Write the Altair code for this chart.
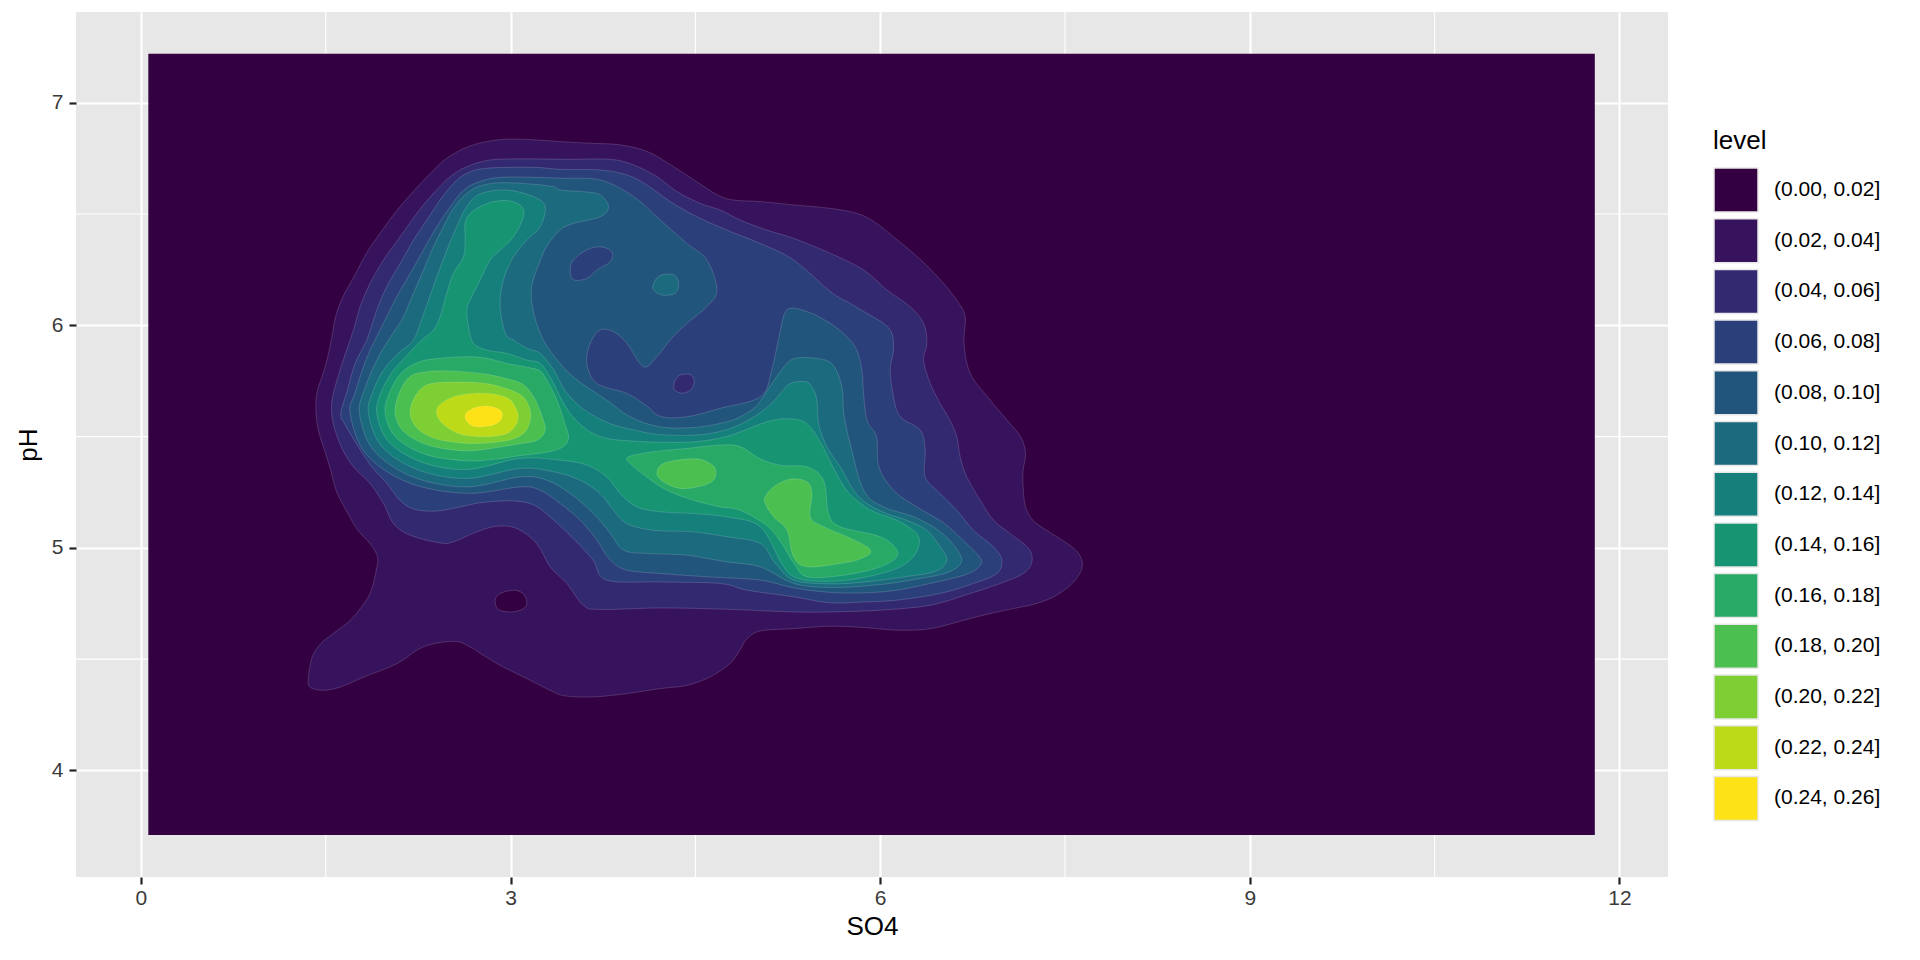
import altair as alt
import pandas as pd

FONT = "Liberation Sans"

LEVELS = ["(0.00, 0.02]", "(0.02, 0.04]", "(0.04, 0.06]", "(0.06, 0.08]", "(0.08, 0.10]",
          "(0.10, 0.12]", "(0.12, 0.14]", "(0.14, 0.16]", "(0.16, 0.18]", "(0.18, 0.20]",
          "(0.20, 0.22]", "(0.22, 0.24]", "(0.24, 0.26]"]
LEVEL_COLORS = ["#330042", "#37135D", "#332971", "#2B407A", "#22557C", "#1B6A7D", "#157F7B",
                "#179573", "#28AA66", "#4BBF4F", "#7ECF33", "#BCDA17", "#FDE218"]
PANEL_GREY = "#E7E7E7"
TICK_LABEL_GREY = "#3B3B3B"
TICK_GREY = "#242424"

X_TICKS = [0, 3, 6, 9, 12]
Y_TICKS = [4, 5, 6, 7]
X_MINOR = [1.5, 4.5, 7.5, 10.5]
Y_MINOR = [4.5, 5.5, 6.5]
X_DOMAIN = [-0.527, 12.394]
Y_DOMAIN = [3.521, 7.408]
SO4_RANGE = [0.06, 11.80]
PH_RANGE = [3.71, 7.22]

# ---- density contour bands: (SO4, pH) vertices ----
level01_outer = [(2.48, 6.75), (2.67, 6.806), (2.89, 6.833), (3.10, 6.836), (3.48, 6.823), (3.67, 6.818), (3.89, 6.811), (4.11, 6.781), (4.30, 6.721), (4.49, 6.653), (4.68, 6.586), (4.81, 6.563), (5.03, 6.556), (5.30, 6.541), (5.59, 6.526), (5.81, 6.503), (5.95, 6.466), (6.14, 6.383), (6.33, 6.294), (6.49, 6.204), (6.62, 6.114), (6.69, 6.039), (6.68, 5.919), (6.73, 5.784), (6.87, 5.679), (7.02, 5.58), (7.14, 5.499), (7.18, 5.424), (7.16, 5.349), (7.16, 5.274), (7.18, 5.184), (7.24, 5.124), (7.35, 5.079), (7.52, 5.019), (7.61, 4.975), (7.64, 4.915), (7.57, 4.847), (7.43, 4.787), (7.27, 4.750), (7.08, 4.727), (6.87, 4.702), (6.68, 4.675), (6.41, 4.637), (6.14, 4.630), (5.87, 4.642), (5.59, 4.648), (5.30, 4.637), (5.03, 4.627), (4.92, 4.592), (4.86, 4.540), (4.78, 4.480), (4.62, 4.420), (4.43, 4.382), (4.22, 4.368), (3.94, 4.345), (3.67, 4.330), (3.44, 4.335), (3.32, 4.360), (3.16, 4.405), (2.94, 4.465), (2.78, 4.517), (2.67, 4.555), (2.54, 4.580), (2.29, 4.555), (2.08, 4.480), (1.81, 4.420), (1.62, 4.375), (1.48, 4.360), (1.37, 4.375), (1.36, 4.420), (1.39, 4.510), (1.46, 4.570), (1.56, 4.615), (1.70, 4.675), (1.81, 4.750), (1.87, 4.810), (1.91, 4.900), (1.92, 4.960), (1.86, 5.019), (1.76, 5.079), (1.68, 5.154), (1.59, 5.25), (1.54, 5.35), (1.49, 5.439), (1.44, 5.529), (1.42, 5.62), (1.43, 5.70), (1.47, 5.77), (1.51, 5.844), (1.55, 5.949), (1.58, 6.039), (1.64, 6.129), (1.73, 6.219), (1.83, 6.324), (1.94, 6.413), (2.08, 6.518), (2.21, 6.601), (2.35, 6.683)]
level00_hole = [(2.875, 4.765), (2.916, 4.795), (3.024, 4.810), (3.10, 4.795), (3.132, 4.757), (3.105, 4.727), (3.010, 4.712), (2.902, 4.723)]
level02_outer = [(2.51, 6.668), (2.645, 6.713), (2.834, 6.743), (3.105, 6.748), (3.484, 6.746), (3.809, 6.746), (3.998, 6.721), (4.188, 6.668), (4.350, 6.601), (4.539, 6.548), (4.702, 6.518), (4.864, 6.473), (5.080, 6.428), (5.297, 6.391), (5.594, 6.324), (5.865, 6.249), (6.054, 6.159), (6.243, 6.084), (6.352, 6.009), (6.379, 5.919), (6.352, 5.844), (6.406, 5.739), (6.487, 5.649), (6.56, 5.58), (6.622, 5.499), (6.649, 5.409), (6.703, 5.319), (6.812, 5.214), (6.920, 5.124), (7.055, 5.064), (7.204, 4.997), (7.231, 4.937), (7.163, 4.885), (6.974, 4.840), (6.730, 4.795), (6.406, 4.742), (6.000, 4.720), (5.594, 4.712), (5.297, 4.712), (4.756, 4.724), (4.215, 4.730), (3.728, 4.723), (3.592, 4.742), (3.457, 4.840), (3.321, 4.915), (3.213, 5.019), (3.051, 5.087), (2.888, 5.097), (2.726, 5.072), (2.537, 5.027), (2.429, 5.022), (2.185, 5.057), (2.050, 5.109), (1.969, 5.199), (1.860, 5.289), (1.725, 5.364), (1.63, 5.45), (1.56, 5.56), (1.55, 5.66), (1.60, 5.77), (1.66, 5.874), (1.725, 5.979), (1.779, 6.084), (1.860, 6.189), (1.969, 6.294), (2.104, 6.398), (2.239, 6.503), (2.374, 6.593)]
level03_outer = [(2.537, 6.638), (2.645, 6.683), (2.807, 6.706), (3.186, 6.710), (3.403, 6.701), (3.728, 6.698), (3.944, 6.676), (4.106, 6.631), (4.296, 6.556), (4.512, 6.488), (4.756, 6.428), (5.026, 6.368), (5.297, 6.294), (5.60, 6.15), (5.756, 6.099), (5.892, 6.054), (6.027, 6.009), (6.095, 5.964), (6.108, 5.889), (6.081, 5.799), (6.108, 5.679), (6.162, 5.59), (6.325, 5.529), (6.365, 5.439), (6.365, 5.319), (6.487, 5.244), (6.622, 5.169), (6.757, 5.079), (6.920, 5.004), (6.987, 4.945), (6.947, 4.885), (6.757, 4.840), (6.487, 4.795), (6.135, 4.765), (5.865, 4.757), (5.594, 4.753), (5.297, 4.780), (4.918, 4.810), (4.702, 4.840), (4.215, 4.847), (3.78, 4.855), (3.67, 4.945), (3.53, 5.03), (3.36, 5.12), (3.20, 5.19), (3.05, 5.21), (2.90, 5.21), (2.72, 5.20), (2.56, 5.18), (2.38, 5.165), (2.21, 5.175), (2.10, 5.215), (1.995, 5.29), (1.874, 5.364), (1.765, 5.454), (1.65, 5.56), (1.622, 5.604), (1.671, 5.70), (1.738, 5.829), (1.833, 5.934), (1.914, 6.069), (1.995, 6.174), (2.104, 6.278), (2.212, 6.383), (2.320, 6.473), (2.428, 6.563)]
level02_spot = [(4.33, 5.71), (4.40, 5.695), (4.47, 5.715), (4.49, 5.755), (4.45, 5.78), (4.37, 5.775), (4.33, 5.745)]
level04_outer = [(2.510, 6.533), (2.62, 6.608), (2.75, 6.646), (2.92, 6.665), (3.20, 6.665), (3.40, 6.661), (3.73, 6.653), (4.00, 6.578), (4.215, 6.473), (4.431, 6.368), (4.593, 6.294), (4.675, 6.159), (4.593, 6.084), (4.431, 6.009), (4.296, 5.934), (4.188, 5.859), (4.079, 5.814), (3.944, 5.919), (3.836, 5.971), (3.728, 5.979), (3.647, 5.919), (3.619, 5.829), (3.70, 5.739), (3.944, 5.694), (4.10, 5.64), (4.22, 5.59), (4.43, 5.589), (4.70, 5.627), (5.03, 5.68), (5.12, 5.80), (5.18, 5.95), (5.243, 6.069), (5.405, 6.062), (5.594, 6.009), (5.729, 5.949), (5.810, 5.889), (5.851, 5.799), (5.865, 5.694), (5.892, 5.574), (5.97, 5.499), (5.99, 5.364), (6.108, 5.259), (6.297, 5.184), (6.52, 5.11), (6.68, 5.03), (6.79, 4.97), (6.82, 4.93), (6.72, 4.885), (6.46, 4.847), (6.135, 4.810), (5.865, 4.798), (5.594, 4.80), (5.30, 4.82), (5.026, 4.855), (4.593, 4.870), (4.214, 4.885), (3.944, 4.900), (3.809, 4.945), (3.700, 5.035), (3.565, 5.124), (3.403, 5.199), (3.240, 5.259), (3.078, 5.274), (2.645, 5.245), (2.171, 5.293), (1.825, 5.423), (1.698, 5.604), (1.74, 5.70), (1.83, 5.85), (1.941, 5.979), (2.077, 6.129), (2.185, 6.233), (2.293, 6.338), (2.401, 6.443)]
level03_hole = [(3.484, 6.249), (3.511, 6.294), (3.619, 6.339), (3.728, 6.353), (3.822, 6.331), (3.809, 6.286), (3.701, 6.249), (3.619, 6.211), (3.511, 6.204)]
level05_outer = [(2.537, 6.526), (2.645, 6.593), (2.753, 6.626), (2.915, 6.641), (3.159, 6.635), (3.348, 6.623), (3.403, 6.608), (3.60, 6.60), (3.728, 6.586), (3.795, 6.533), (3.728, 6.488), (3.511, 6.458), (3.40, 6.428), (3.30, 6.36), (3.24, 6.29), (3.17, 6.17), (3.19, 6.05), (3.27, 5.93), (3.40, 5.83), (3.54, 5.754), (3.78, 5.664), (3.97, 5.589), (4.21, 5.544), (4.49, 5.541), (4.76, 5.567), (4.90, 5.60), (5.00, 5.64), (5.10, 5.72), (5.20, 5.80), (5.30, 5.85), (5.50, 5.85), (5.62, 5.82), (5.69, 5.72), (5.705, 5.60), (5.756, 5.469), (5.865, 5.259), (6.027, 5.184), (6.27, 5.14), (6.47, 5.08), (6.60, 5.01), (6.66, 4.94), (6.55, 4.89), (6.30, 4.86), (6.00, 4.835), (5.60, 4.822), (5.30, 4.84), (5.026, 4.915), (4.755, 4.937), (4.431, 4.967), (4.106, 4.975), (3.917, 4.990), (3.809, 5.065), (3.673, 5.154), (3.484, 5.244), (3.294, 5.304), (3.078, 5.319), (2.645, 5.274), (2.210, 5.318), (1.891, 5.437), (1.774, 5.604), (1.82, 5.72), (1.93, 5.86), (2.063, 5.979), (2.131, 6.039), (2.212, 6.144), (2.293, 6.248), (2.374, 6.353), (2.455, 6.443)]
level05_island = [(4.161, 6.189), (4.215, 6.224), (4.323, 6.227), (4.364, 6.189), (4.337, 6.144), (4.228, 6.136), (4.161, 6.159)]
level06_outer = [(2.56, 6.44), (2.64, 6.53), (2.75, 6.59), (2.969, 6.608), (3.186, 6.578), (3.281, 6.533), (3.240, 6.443), (3.132, 6.383), (3.024, 6.308), (2.942, 6.204), (2.915, 6.084), (2.96, 5.96), (3.024, 5.934), (3.132, 5.897), (3.240, 5.874), (3.35, 5.80), (3.45, 5.70), (3.60, 5.62), (3.80, 5.56), (4.00, 5.53), (4.20, 5.51), (4.50, 5.507), (4.75, 5.53), (4.95, 5.58), (5.10, 5.64), (5.20, 5.70), (5.27, 5.739), (5.39, 5.747), (5.446, 5.724), (5.486, 5.664), (5.500, 5.559), (5.567, 5.454), (5.676, 5.364), (5.784, 5.259), (5.892, 5.199), (6.054, 5.154), (6.217, 5.124), (6.379, 5.079), (6.487, 5.005), (6.541, 4.945), (6.45, 4.895), (6.2, 4.87), (5.9, 4.848), (5.6, 4.838), (5.3, 4.855), (5.15, 4.93), (5.026, 5.020), (4.755, 5.050), (4.485, 5.072), (4.160, 5.079), (3.944, 5.109), (3.836, 5.169), (3.727, 5.244), (3.565, 5.304), (3.349, 5.342), (3.078, 5.357), (2.645, 5.312), (2.246, 5.351), (1.954, 5.456), (1.847, 5.604), (1.88, 5.70), (1.97, 5.80), (2.10, 5.88), (2.212, 5.934), (2.30, 6.06), (2.39, 6.20), (2.47, 6.32)]
level07_outer = [(2.672, 6.503), (2.753, 6.533), (2.861, 6.556), (2.997, 6.559), (3.091, 6.533), (3.105, 6.488), (3.024, 6.398), (2.915, 6.338), (2.834, 6.293), (2.753, 6.204), (2.672, 6.114), (2.645, 6.069), (2.658, 5.994), (2.699, 5.919), (2.807, 5.889), (2.969, 5.874), (3.132, 5.844), (3.240, 5.829), (3.33, 5.76), (3.42, 5.66), (3.52, 5.58), (3.65, 5.52), (3.80, 5.49), (4.00, 5.48), (4.20, 5.475), (4.50, 5.477), (4.75, 5.50), (4.95, 5.54), (5.10, 5.57), (5.25, 5.58), (5.40, 5.56), (5.52, 5.47), (5.62, 5.36), (5.74, 5.25), (5.92, 5.17), (6.135, 5.124), (6.297, 5.064), (6.311, 5.004), (6.243, 4.945), (6.10, 4.90), (5.80, 4.86), (5.50, 4.85), (5.30, 4.87), (5.20, 4.93), (5.026, 5.095), (4.755, 5.139), (4.485, 5.154), (4.214, 5.162), (4.025, 5.184), (3.890, 5.244), (3.781, 5.319), (3.619, 5.372), (3.403, 5.394), (3.078, 5.402), (2.645, 5.352), (2.280, 5.385), (2.012, 5.476), (1.914, 5.604), (1.95, 5.70), (2.04, 5.79), (2.15, 5.86), (2.27, 5.93), (2.374, 5.979), (2.428, 6.039), (2.482, 6.144), (2.537, 6.234), (2.618, 6.308), (2.631, 6.384), (2.631, 6.458)]
level08_core = [(1.982, 5.604), (2.02, 5.70), (2.12, 5.79), (2.266, 5.837), (2.428, 5.852), (2.645, 5.859), (2.807, 5.852), (2.969, 5.829), (3.15, 5.81), (3.240, 5.795), (3.294, 5.754), (3.376, 5.664), (3.440, 5.56), (3.470, 5.49), (3.403, 5.447), (3.240, 5.425), (3.078, 5.415), (2.90, 5.40), (2.645, 5.391), (2.314, 5.419), (2.071, 5.496)]
level08_ridge = [(3.957, 5.409), (4.160, 5.432), (4.431, 5.447), (4.701, 5.462), (4.864, 5.455), (5.026, 5.40), (5.20, 5.37), (5.405, 5.364), (5.540, 5.304), (5.581, 5.154), (5.676, 5.095), (6.000, 5.050), (6.136, 4.990), (6.108, 4.945), (5.946, 4.905), (5.676, 4.875), (5.405, 4.870), (5.30, 4.93), (5.20, 5.02), (5.08, 5.10), (4.864, 5.169), (4.701, 5.184), (4.485, 5.214), (4.268, 5.259), (4.106, 5.319), (3.970, 5.379)]
level09_core = [(2.063, 5.604), (2.10, 5.70), (2.185, 5.770), (2.32, 5.791), (2.509, 5.795), (2.78, 5.782), (2.969, 5.760), (3.10, 5.735), (3.186, 5.680), (3.250, 5.600), (3.281, 5.530), (3.220, 5.485), (3.078, 5.468), (2.90, 5.452), (2.645, 5.436), (2.354, 5.458), (2.141, 5.518)]
level09_ridge = [(4.187, 5.334), (4.241, 5.379), (4.431, 5.399), (4.566, 5.394), (4.661, 5.357), (4.647, 5.304), (4.539, 5.277), (4.377, 5.267), (4.241, 5.297)]
level09_lobe = [(5.067, 5.229), (5.135, 5.274), (5.270, 5.309), (5.405, 5.297), (5.446, 5.244), (5.432, 5.139), (5.540, 5.095), (5.730, 5.050), (5.892, 5.005), (5.919, 4.975), (5.811, 4.945), (5.676, 4.930), (5.405, 4.915), (5.297, 4.960), (5.243, 5.080), (5.135, 5.139), (5.067, 5.199)]
level10_core = [(2.185, 5.604), (2.225, 5.68), (2.320, 5.732), (2.509, 5.745), (2.780, 5.740), (2.969, 5.715), (3.100, 5.680), (3.159, 5.619), (3.155, 5.565), (3.105, 5.514), (2.969, 5.482), (2.699, 5.469), (2.415, 5.487), (2.247, 5.535)]
level11_core = [(2.401, 5.604), (2.43, 5.645), (2.564, 5.683), (2.780, 5.695), (2.969, 5.675), (3.045, 5.625), (3.060, 5.585), (3.040, 5.550), (2.969, 5.514), (2.807, 5.500), (2.591, 5.512), (2.455, 5.555)]
level12_core = [(2.631, 5.597), (2.699, 5.627), (2.807, 5.637), (2.915, 5.619), (2.929, 5.582), (2.861, 5.552), (2.726, 5.544), (2.658, 5.560)]

# drawing order (nested bands, lower levels first)
BANDS = [
    ("b01", 1, level01_outer), ("b02", 2, level02_outer), ("b03", 3, level03_outer),
    ("b04", 4, level04_outer), ("b05", 5, level05_outer), ("b06", 5, level05_island),
    ("b07", 6, level06_outer), ("b08", 7, level07_outer), ("b09", 8, level08_core),
    ("b10", 8, level08_ridge), ("b11", 9, level09_core), ("b12", 9, level09_ridge),
    ("b13", 9, level09_lobe), ("b14", 10, level10_core), ("b15", 11, level11_core),
    ("b16", 12, level12_core),
]
HOLES = [("h01", 0, level00_hole), ("h02", 2, level02_spot), ("h03", 3, level03_hole)]


def to_frame(items):
    rows = []
    for pid, lev, pts in items:
        for i, (s, p) in enumerate(pts):
            rows.append({"poly": pid, "i": i, "so4": s, "ph": p, "level": LEVELS[lev]})
    return pd.DataFrame(rows)


x_scale = alt.Scale(domain=X_DOMAIN, nice=False, zero=False)
y_scale = alt.Scale(domain=Y_DOMAIN, nice=False, zero=False)
axis_common = dict(grid=True, gridColor="white", gridWidth=2.2, domain=False,
                   tickColor=TICK_GREY, tickWidth=2.2, tickSize=7,
                   labelFontSize=21, labelColor=TICK_LABEL_GREY, labelFont=FONT,
                   titleFont=FONT, titleFontSize=26, titleFontWeight="normal",
                   titleColor="black", labelFlush=False)
x_axis = alt.Axis(values=X_TICKS, title="SO4", labelPadding=3, titlePadding=5, **axis_common)
y_axis = alt.Axis(values=Y_TICKS, title="pH", labelPadding=6, titlePadding=10, **axis_common)
color_scale = alt.Scale(domain=LEVELS, range=LEVEL_COLORS)

X = alt.X("so4:Q", scale=x_scale, axis=x_axis)
Y = alt.Y("ph:Q", scale=y_scale, axis=y_axis)

legend = alt.Legend(title="level", orient="none", legendX=1637, legendY=116, direction="vertical",
                    symbolType="square", symbolSize=1936, symbolStrokeColor=PANEL_GREY,
                    symbolStrokeWidth=1.5, rowPadding=0.7, labelOffset=15, labelFontSize=21,
                    labelFont=FONT, labelColor="black", titleFont=FONT, titleFontSize=26,
                    titleFontWeight="normal", titleColor="black", titlePadding=13, padding=0)

minor_x = alt.Chart(pd.DataFrame({"so4": X_MINOR})).mark_rule(color="white", strokeWidth=1.1).encode(x=X)
minor_y = alt.Chart(pd.DataFrame({"ph": Y_MINOR})).mark_rule(color="white", strokeWidth=1.1).encode(y=Y)

raster = alt.Chart(pd.DataFrame({
    "so4": [SO4_RANGE[0]], "so4_end": [SO4_RANGE[1]],
    "ph": [PH_RANGE[0]], "ph_end": [PH_RANGE[1]], "level": [LEVELS[0]],
})).mark_rect().encode(
    x=X, x2="so4_end:Q", y=Y, y2="ph_end:Q",
    color=alt.Color("level:N", scale=color_scale, legend=legend),
)

band_mark = dict(filled=True, interpolate="cardinal-closed", stroke="white",
                 strokeOpacity=0.22, strokeWidth=0.7)
bands = alt.Chart(to_frame(BANDS)).mark_line(**band_mark).encode(
    x=X, y=Y, color=alt.Color("level:N", scale=color_scale, legend=None),
    detail="poly:N", order="i:Q",
)
holes = alt.Chart(to_frame(HOLES)).mark_line(**band_mark).encode(
    x=X, y=Y, color=alt.Color("level:N", scale=color_scale, legend=None),
    detail="poly:N", order="i:Q",
)

chart = alt.layer(minor_x, minor_y, raster, bands, holes).properties(
    width=1592, height=865,
    autosize=alt.AutoSizeParams(type="none"),
    padding={"left": 68, "top": 4, "right": 244, "bottom": 72},
    background="white",
).configure_view(fill=PANEL_GREY, stroke=None)

chart.save("out.html", embed_options={"renderer": "svg", "actions": False})
